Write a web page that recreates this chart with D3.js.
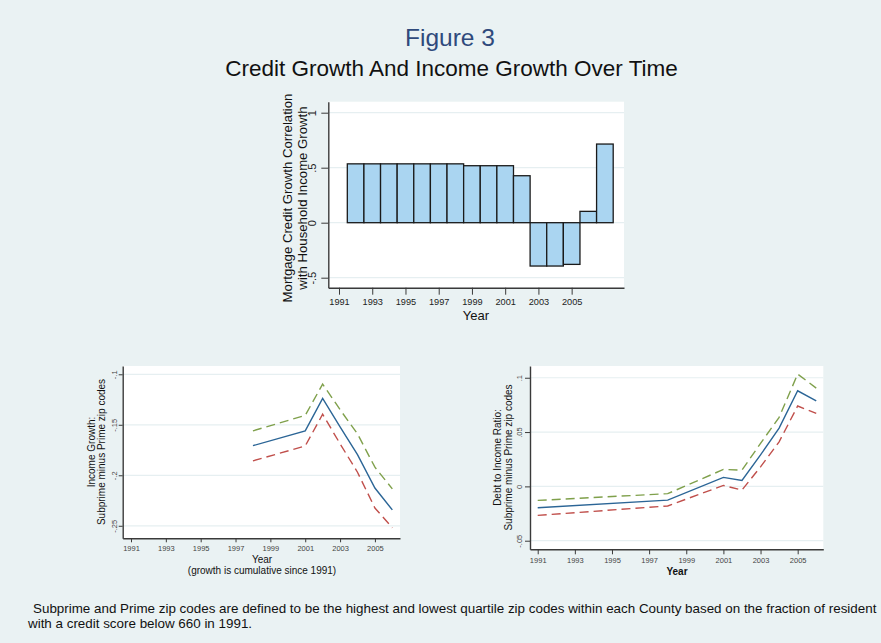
<!DOCTYPE html>
<html>
<head>
<meta charset="utf-8">
<script src="https://cdn.jsdelivr.net/npm/d3@7"></script>
<style>
  body { margin: 0; background: #EAF2F3; }
  svg { display: block; font-family: Arial, "Liberation Sans", sans-serif; }
</style>
</head>
<body>
<svg id="fig" width="881" height="643"></svg>
<script>
// ---- Top panel: correlation of mortgage credit growth with income growth
const corrYears  = [1992, 1993, 1994, 1995, 1996, 1997, 1998, 1999, 2000, 2001, 2002, 2003, 2004, 2005, 2006, 2007];
const corrValues = [0.535, 0.535, 0.535, 0.535, 0.535, 0.535, 0.535, 0.518, 0.518, 0.518, 0.427, -0.394, -0.394, -0.379, 0.103, 0.715];
const corrYTicks = [-0.5, 0, 0.5, 1];

// ---- Shared year ticks
const yearTicks = [1991, 1993, 1995, 1997, 1999, 2001, 2003, 2005];

// ---- Bottom left: income growth, subprime minus prime (estimate and bounds)
const incomeYears = [1998, 2001, 2002, 2003, 2004, 2005, 2006];
const incomeMid   = [-0.1707, -0.156, -0.1238, -0.152, -0.1795, -0.2126, -0.2343];
const incomeUpper = [-0.156, -0.1407, -0.1097, -0.135, -0.159, -0.192, -0.2135];
const incomeLower = [-0.1857, -0.171, -0.1396, -0.1688, -0.197, -0.2324, -0.252];
const incomeYTicks = [-0.25, -0.2, -0.15, -0.1];

// ---- Bottom right: debt to income ratio, subprime minus prime
const debtYears = [1991, 1998, 2001, 2002, 2003, 2004, 2005, 2006];
const debtMid   = [-0.0196, -0.0126, 0.0083, 0.0055, 0.029, 0.0537, 0.088, 0.0788];
const debtUpper = [-0.0129, -0.0067, 0.0156, 0.015, 0.0396, 0.0635, 0.1034, 0.0904];
const debtLower = [-0.0267, -0.018, 0.0009, -0.0034, 0.018, 0.041, 0.074, 0.0672];
const debtYTicks = [-0.05, 0, 0.05, 0.1];

const svg = d3.select("#fig");
const BG = "#EAF2F3", GRID = "#E6EFF1", AXIS = "#3a3a3a";
const C_MID = "#2B6596", C_UP = "#7FA04B", C_LO = "#C04F4B";

// Stata-style numeric labels: ".5", "-.15", "0"
const fmt = d => d === 0 ? "0" : String(+d.toFixed(4)).replace("0.", ".");

svg.append("rect").attr("width", 881).attr("height", 643).attr("fill", BG);

// Titles
svg.append("text").attr("x", 450).attr("y", 46).attr("text-anchor", "middle")
  .attr("font-size", 24.5).attr("fill", "#2F4A7C").text("Figure 3");
svg.append("text").attr("x", 451.5).attr("y", 76).attr("text-anchor", "middle")
  .attr("font-size", 22.5).attr("fill", "#111").text("Credit Growth And Income Growth Over Time");

function panel(o) {
  const x = d3.scaleLinear().domain(o.xDomain).range(o.xRange);
  const y = d3.scaleLinear().domain(o.yDomain).range(o.yRange);
  const g = svg.append("g");
  // plot region
  g.append("rect")
    .attr("x", o.xRange[0]).attr("y", o.yRange[1])
    .attr("width", o.xRange[1] - o.xRange[0]).attr("height", o.yRange[0] - o.yRange[1])
    .attr("fill", "#fff");
  // horizontal grid
  g.append("g").selectAll("line").data(o.yTicks).join("line")
    .attr("x1", o.xRange[0]).attr("x2", o.xRange[1])
    .attr("y1", d => y(d)).attr("y2", d => y(d))
    .attr("stroke", GRID).attr("stroke-width", 1.2);
  return { x, y, g };
}

function axes(p, o) {
  const { x, y, g } = p;
  const xa = g.append("g").attr("transform", `translate(0,${o.yRange[0]})`)
    .call(d3.axisBottom(x).tickValues(yearTicks).tickFormat(d3.format("d"))
      .tickSize(o.xTick).tickSizeOuter(0).tickPadding(o.xPad));
  xa.select(".domain").attr("stroke", AXIS).attr("stroke-width", 1.4);
  xa.selectAll(".tick line").attr("stroke", AXIS).attr("stroke-width", 1);
  xa.selectAll("text").attr("font-size", o.xFont).attr("fill", o.labelColor)
    .attr("font-family", "Arial, 'Liberation Sans', sans-serif");

  const ya = g.append("g").attr("transform", `translate(${o.xRange[0]},0)`)
    .call(d3.axisLeft(y).tickValues(o.yTicks).tickFormat(fmt)
      .tickSize(o.yTick).tickSizeOuter(0));
  ya.select(".domain").attr("stroke", AXIS).attr("stroke-width", 1.4);
  ya.selectAll(".tick line").attr("stroke", AXIS).attr("stroke-width", 1);
  ya.selectAll("text")
    .attr("x", 0).attr("dy", 0).attr("text-anchor", "middle")
    .attr("transform", `translate(${-o.yOff},0) rotate(-90)`)
    .attr("font-size", o.yFont).attr("fill", o.labelColor)
    .attr("font-family", "Arial, 'Liberation Sans', sans-serif");

  // y title (two rotated lines)
  o.yTitle.forEach((t, i) => {
    svg.append("text")
      .attr("transform", `translate(${o.yTitleX[i]},${o.yTitleY}) rotate(-90)`)
      .attr("text-anchor", "middle").attr("font-size", o.yTitleFont).attr("fill", "#111")
      .text(t);
  });
}

// ---------- Top panel ----------
const topO = {
  xDomain: [1990.356, 2008.15], xRange: [328.3, 624],
  yDomain: [-0.591, 1.1], yRange: [287.7, 101.7],
  yTicks: corrYTicks, xTick: 7, xPad: 4, yTick: 7, yOff: 12,
  xFont: 9.2, yFont: 11, labelColor: "#222",
  yTitle: ["Mortgage Credit Growth Correlation", "with Household Income Growth"],
  yTitleX: [291.5, 306.5], yTitleY: 198, yTitleFont: 13.2
};
const corrPanel = panel(topO);
corrPanel.g.append("g").selectAll("rect").data(corrYears.map((yr, i) => ({ yr, v: corrValues[i] }))).join("rect")
  .attr("x", d => corrPanel.x(d.yr - 0.5))
  .attr("width", d => corrPanel.x(d.yr + 0.5) - corrPanel.x(d.yr - 0.5))
  .attr("y", d => corrPanel.y(Math.max(0, d.v)))
  .attr("height", d => Math.abs(corrPanel.y(d.v) - corrPanel.y(0)))
  .attr("fill", "#AAD5F1").attr("stroke", "#1a1a1a").attr("stroke-width", 1.3);
axes(corrPanel, topO);
svg.append("text").attr("x", 476).attr("y", 319.5).attr("text-anchor", "middle")
  .attr("font-size", 13).attr("fill", "#111").text("Year");

// ---------- Line panels ----------
function drawLines(p, years, series) {
  const line = d3.line().x((d, i) => p.x(years[i])).y(d => p.y(d));
  series.forEach(s => {
    p.g.append("path").datum(s.values).attr("d", line)
      .attr("fill", "none").attr("stroke", s.color).attr("stroke-width", 1.4)
      .attr("stroke-dasharray", s.dash || null);
  });
}

const leftO = {
  xDomain: [1990.524, 2006.44], xRange: [122.7, 400],
  yDomain: [-0.2624, -0.0918], yRange: [538.3, 366],
  yTicks: incomeYTicks, xTick: 4, xPad: 3, yTick: 4, yOff: 6,
  xFont: 7.5, yFont: 7.5, labelColor: "#444",
  yTitle: ["Income Growth:", "Subprime minus Prime zip codes"],
  yTitleX: [95.2, 105.4], yTitleY: 452, yTitleFont: 10
};
const incomePanel = panel(leftO);
drawLines(incomePanel, incomeYears, [
  { values: incomeUpper, color: C_UP, dash: "9,5" },
  { values: incomeLower, color: C_LO, dash: "9,5" },
  { values: incomeMid, color: C_MID }
]);
axes(incomePanel, leftO);
svg.append("text").attr("x", 262).attr("y", 563).attr("text-anchor", "middle")
  .attr("font-size", 10).attr("fill", "#111").text("Year");
svg.append("text").attr("x", 262).attr("y", 574).attr("text-anchor", "middle")
  .attr("font-size", 10).attr("fill", "#111").text("(growth is cumulative since 1991)");

const rightO = {
  xDomain: [1990.585, 2006.38], xRange: [530, 823.3],
  yDomain: [-0.0579, 0.1108], yRange: [549.3, 366],
  yTicks: debtYTicks, xTick: 5, xPad: 3, yTick: 5, yOff: 8.3,
  xFont: 7.5, yFont: 7.5, labelColor: "#444",
  yTitle: ["Debt to Income Ratio:", "Subprime minus Prime zip codes"],
  yTitleX: [501, 512], yTitleY: 457.5, yTitleFont: 10
};
const debtPanel = panel(rightO);
drawLines(debtPanel, debtYears, [
  { values: debtUpper, color: C_UP, dash: "9,5" },
  { values: debtLower, color: C_LO, dash: "9,5" },
  { values: debtMid, color: C_MID }
]);
axes(debtPanel, rightO);
svg.append("text").attr("x", 677).attr("y", 574.5).attr("text-anchor", "middle")
  .attr("font-size", 10).attr("font-weight", "bold").attr("fill", "#111").text("Year");

// ---------- Footnote ----------
svg.append("text").attr("x", 33).attr("y", 613).attr("font-size", 13.4).attr("fill", "#111")
  .text("Subprime and Prime zip codes are defined to be the highest and lowest quartile zip codes within each County based on the fraction of resident");
svg.append("text").attr("x", 28).attr("y", 628).attr("font-size", 13.4).attr("fill", "#111")
  .text("with a credit score below 660 in 1991.");
</script>
</body>
</html>
